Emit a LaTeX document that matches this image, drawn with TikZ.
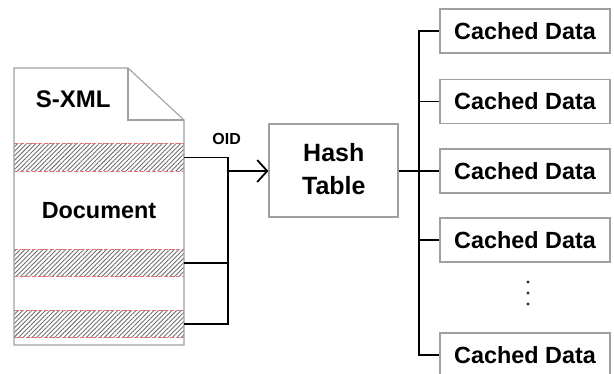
\documentclass[tikz,border=0pt]{standalone}
\usepackage{fontspec}
\setmainfont{Liberation Sans}
\usetikzlibrary{arrows.meta,patterns.meta}

\definecolor{boxgray}{HTML}{A0A0A0}
\definecolor{hatch}{HTML}{707070}
\definecolor{stripered}{HTML}{E87070}

\begin{document}
\begin{tikzpicture}[x=1pt,y=-1pt,
  lbl/.style={font=\bfseries\fontsize{23.4}{26}\selectfont},
  box/.style={draw=boxgray,line width=1.1pt,rectangle,inner sep=0pt},
  cached/.style={box,minimum width=170pt,minimum height=44pt,lbl,
    text height=16.8pt,text depth=0pt},
  stripe/.style={rectangle,inner sep=0pt,minimum width=170pt,minimum height=27pt,
    pattern={Lines[angle=45,distance=3.2pt,line width=0.9pt]},pattern color=hatch},
  stripeedge/.style={draw=stripered,line width=0.9pt,dash pattern=on 4pt off 2pt},
  docline/.style={draw=boxgray,line width=1.1pt},
  wire/.style={line width=1.8pt,black},
]
\useasboundingbox (0,0) rectangle (614,374);

% hatched record bands inside the document
\node[stripe] (s1) at (99,157.5) {};
\node[stripe] (s2) at (99,263) {};
\node[stripe] (s3) at (99,324) {};
\foreach \s in {s1,s2,s3}{
  \draw[stripeedge] (\s.north west) -- (\s.north east);
  \draw[stripeedge] (\s.south west) -- (\s.south east);
}

% document outline with folded corner
\draw[docline] (14,68) -- (128,68) -- (184,120) -- (184,345) -- (14,345) -- cycle;
\draw[docline] (128,68) -- (128,120) -- (184,120);

\node[lbl,font=\bfseries\fontsize{24}{26}\selectfont,anchor=base] (sxml) at (73.3,108) {S-XML};
\node[lbl,anchor=base] (doc) at (99,218.3) {Document};

% hash table (label anchored on the baseline of its last line)
\node[box,minimum width=129pt,minimum height=93pt] (hash) at (333.5,170.5) {};
\node[font=\bfseries\fontsize{25}{33.3}\selectfont,align=center,anchor=base,inner sep=0pt]
  (hashlbl) at (333.8,195) {Hash\\Table};

% cached data boxes
\node[cached] (c1) at (525,31) {Cached Data};
\node[cached] (c2) at (525,101.5) {Cached Data};
\node[cached] (c3) at (525,171) {Cached Data};
\node[cached] (c4) at (525,240) {Cached Data};
\node[cached] (c5) at (525,355) {Cached Data};

% ellipsis between the last boxes
\foreach \yy in {282,293,304}
  \fill[black!85] (528,\yy) circle (1.6);

% OID bus on the left
\coordinate (lbus) at (228,0);
\draw[wire] (s1.east) -| (lbus |- s3.east) -- (s3.east);
\draw[wire] (s2.east) -- (lbus |- s2.east);
\draw[wire,-{Straight Barb[length=10pt,width=22pt]}] (lbus |- 0,171) -- (hash.west |- 0,171);
\node[font=\bfseries\fontsize{16}{18}\selectfont,anchor=base] (oid) at (226.7,145) {OID};

% fan-out bus on the right
\coordinate (rbus) at (419,0);
\draw[wire] (hash.east |- c3.west) -- (c3.west);
\draw[wire] (c1.west) -| (rbus |- c5.west) -- (c5.west);
\draw[wire] (c2.west) -- (rbus |- c2.west);
\draw[wire] (c4.west) -- (rbus |- c4.west);
\end{tikzpicture}
\end{document}
